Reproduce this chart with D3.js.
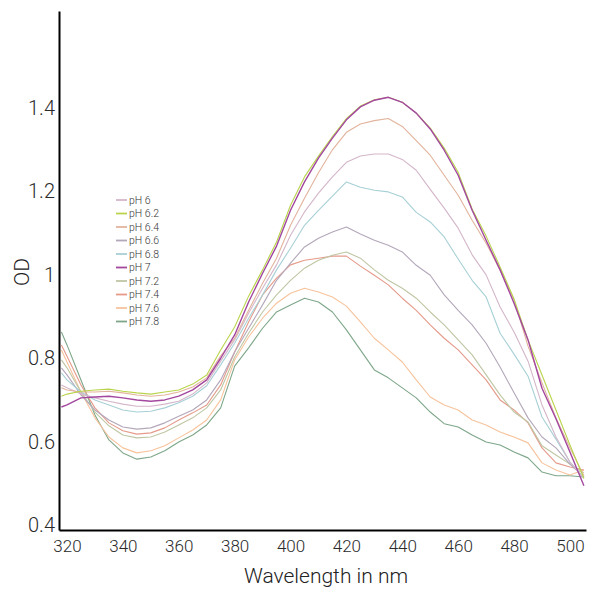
<!DOCTYPE html>
<html>
<head>
<meta charset="utf-8">
<script src="https://cdn.jsdelivr.net/npm/d3@7"></script>
<style>
  body { margin: 0; background: #fff; }
  svg { font-family: Roboto, "DejaVu Sans", sans-serif; font-weight: 300; }
  .tick text { fill: #2a2a2a; }
</style>
</head>
<body>
<svg id="chart" width="600" height="600"></svg>
<script>
// wavelengths (nm)
const wavelengths = [318, 320, 325, 330, 335, 340, 345, 350, 355, 360, 365, 370, 375, 380, 385, 390, 395, 400,
    405, 410, 415, 420, 425, 430, 435, 440, 445, 450, 455, 460, 465, 470, 475, 480, 485, 490, 495, 500, 505];

const seriesNames = ['pH 6', 'pH 6.2', 'pH 6.4', 'pH 6.6', 'pH 6.8', 'pH 7', 'pH 7.2', 'pH 7.4', 'pH 7.6', 'pH 7.8'];
const seriesColors = ['#d3b6c9', '#b9d44c', '#e2b39c', '#b3a7ba', '#a7d0d6', '#a3479f', '#bec7a4', '#e59a8a', '#f7c39c', '#7ea689'];

const od_ph60 = [0.736, 0.729, 0.714, 0.705, 0.697, 0.690, 0.685, 0.685, 0.690, 0.697, 0.714, 0.741, 0.793, 0.844, 0.908, 0.968, 1.024, 1.095,
    1.151, 1.196, 1.235, 1.270, 1.285, 1.290, 1.290, 1.277, 1.251, 1.205, 1.160, 1.112, 1.048, 1.000, 0.923, 0.863, 0.793, 0.688, 0.611, 0.551, 0.512];
const od_ph62 = [0.709, 0.714, 0.721, 0.724, 0.726, 0.721, 0.717, 0.714, 0.719, 0.724, 0.738, 0.760, 0.820, 0.875, 0.949, 1.012, 1.079, 1.167,
    1.235, 1.285, 1.332, 1.375, 1.405, 1.420, 1.426, 1.414, 1.388, 1.352, 1.304, 1.246, 1.158, 1.093, 1.019, 0.942, 0.844, 0.760, 0.676, 0.592, 0.512];
const od_ph64 = [0.729, 0.724, 0.719, 0.719, 0.721, 0.717, 0.712, 0.709, 0.712, 0.719, 0.731, 0.753, 0.806, 0.848, 0.915, 0.980, 1.040, 1.119,
    1.184, 1.245, 1.300, 1.342, 1.362, 1.370, 1.375, 1.356, 1.322, 1.287, 1.239, 1.191, 1.131, 1.076, 1.012, 0.940, 0.829, 0.741, 0.657, 0.585, 0.518];
const od_ph66 = [0.777, 0.760, 0.712, 0.676, 0.652, 0.635, 0.630, 0.633, 0.645, 0.661, 0.676, 0.700, 0.748, 0.815, 0.872, 0.928, 0.987, 1.028,
    1.067, 1.088, 1.103, 1.115, 1.098, 1.083, 1.071, 1.055, 1.023, 0.999, 0.952, 0.915, 0.880, 0.836, 0.779, 0.717, 0.657, 0.611, 0.585, 0.546, 0.515];
const od_ph68 = [0.765, 0.748, 0.719, 0.700, 0.688, 0.676, 0.671, 0.673, 0.681, 0.693, 0.709, 0.734, 0.784, 0.836, 0.896, 0.952, 1.012, 1.064,
    1.119, 1.155, 1.189, 1.223, 1.210, 1.203, 1.199, 1.187, 1.150, 1.127, 1.091, 1.038, 0.987, 0.947, 0.860, 0.810, 0.757, 0.659, 0.606, 0.551, 0.515];
const od_ph70 = [0.683, 0.688, 0.705, 0.707, 0.709, 0.705, 0.700, 0.697, 0.700, 0.709, 0.724, 0.748, 0.800, 0.856, 0.935, 1.004, 1.069, 1.155,
    1.223, 1.280, 1.328, 1.372, 1.403, 1.419, 1.426, 1.414, 1.388, 1.350, 1.299, 1.239, 1.155, 1.083, 1.012, 0.932, 0.844, 0.728, 0.655, 0.575, 0.494];
const od_ph72 = [0.796, 0.777, 0.719, 0.671, 0.638, 0.616, 0.609, 0.611, 0.623, 0.640, 0.657, 0.681, 0.724, 0.803, 0.860, 0.911, 0.952, 0.987,
    1.016, 1.035, 1.047, 1.055, 1.040, 1.012, 0.987, 0.968, 0.944, 0.911, 0.880, 0.844, 0.808, 0.760, 0.712, 0.671, 0.647, 0.590, 0.568, 0.546, 0.525];
const od_ph74 = [0.832, 0.805, 0.736, 0.681, 0.645, 0.626, 0.618, 0.621, 0.633, 0.652, 0.669, 0.688, 0.736, 0.815, 0.887, 0.952, 0.992, 1.024,
    1.035, 1.040, 1.045, 1.045, 1.021, 0.999, 0.976, 0.944, 0.915, 0.880, 0.848, 0.820, 0.784, 0.748, 0.700, 0.676, 0.645, 0.585, 0.549, 0.539, 0.532];
const od_ph76 = [0.820, 0.791, 0.719, 0.657, 0.611, 0.585, 0.573, 0.578, 0.590, 0.609, 0.628, 0.652, 0.700, 0.796, 0.851, 0.896, 0.932, 0.956,
    0.968, 0.959, 0.947, 0.925, 0.887, 0.848, 0.820, 0.791, 0.748, 0.707, 0.688, 0.676, 0.652, 0.640, 0.623, 0.611, 0.597, 0.549, 0.532, 0.520, 0.532];
const od_ph78 = [0.863, 0.832, 0.748, 0.664, 0.604, 0.573, 0.558, 0.563, 0.578, 0.599, 0.616, 0.640, 0.681, 0.781, 0.825, 0.872, 0.911, 0.928,
    0.944, 0.935, 0.911, 0.868, 0.820, 0.772, 0.753, 0.729, 0.705, 0.671, 0.643, 0.635, 0.616, 0.599, 0.592, 0.575, 0.561, 0.527, 0.518, 0.518, 0.515];

const seriesValues = [od_ph60, od_ph62, od_ph64, od_ph66, od_ph68, od_ph70, od_ph72, od_ph74, od_ph76, od_ph78];

const xTicks = [320, 340, 360, 380, 400, 420, 440, 460, 480, 500];
const yTicks = [0.4, 0.6, 0.8, 1, 1.2, 1.4];

const svg = d3.select('#chart');
const plot = { left: 59, right: 586, top: 11, bottom: 530 };

const xScale = d3.scaleLinear().domain([317.14, 505.75]).range([plot.left, plot.right]);
const yScale = d3.scaleLinear().domain([0.388, 1.633]).range([plot.bottom, plot.top]);

const line = d3.line()
    .x((d, i) => xScale(wavelengths[i]))
    .y(d => yScale(d));

// draw lower curves first so the top ones (6.2 / 7) end up in front
const drawOrder = [9, 8, 7, 6, 3, 4, 0, 2, 1, 5];
svg.append('g')
    .selectAll('path')
    .data(drawOrder)
    .join('path')
    .attr('fill', 'none')
    .attr('stroke', i => seriesColors[i])
    .attr('stroke-width', i => i === 5 ? 1.4 : 1.1)
    .attr('stroke-linejoin', 'round')
    .attr('d', i => line(seriesValues[i]));

// x axis
const xAxis = d3.axisBottom(xScale)
    .tickValues(xTicks)
    .tickSize(0)
    .tickSizeOuter(0)
    .tickPadding(10)
    .tickFormat(d3.format('d'));
const gx = svg.append('g')
    .attr('transform', 'translate(0,' + plot.bottom + ')')
    .call(xAxis);
gx.select('.domain').attr('stroke', '#000').attr('stroke-width', 2);
gx.selectAll('.tick text')
    .style('font-size', '17px')
    .style('font-family', 'Roboto, "DejaVu Sans", sans-serif');

// y axis
const yAxis = d3.axisLeft(yScale)
    .tickValues(yTicks)
    .tickSize(0)
    .tickSizeOuter(0)
    .tickPadding(4)
    .tickFormat(d => d === 1 ? '1' : d3.format('.1f')(d));
const gy = svg.append('g')
    .attr('transform', 'translate(' + plot.left + ',0)')
    .call(yAxis);
gy.select('.domain').attr('stroke', '#000').attr('stroke-width', 2);
gy.selectAll('.tick text')
    .style('font-size', '20px')
    .style('font-family', 'Roboto, "DejaVu Sans", sans-serif');

// axis labels
svg.append('text')
    .attr('x', 326)
    .attr('y', 583)
    .attr('text-anchor', 'middle')
    .attr('fill', '#222')
    .style('font-size', '21px')
    .text('Wavelength in nm');

svg.append('text')
    .attr('transform', 'translate(29,272) rotate(-90)')
    .attr('text-anchor', 'middle')
    .attr('fill', '#222')
    .style('font-size', '21px')
    .text('OD');

// legend
const legend = svg.append('g')
    .selectAll('g')
    .data(seriesNames)
    .join('g')
    .attr('transform', (d, i) => 'translate(116,' + (200 + i * 13.5) + ')');
legend.append('line')
    .attr('x1', 0).attr('x2', 11)
    .attr('stroke', (d, i) => seriesColors[i])
    .attr('stroke-width', 1.8);
legend.append('text')
    .attr('x', 13)
    .attr('dy', '0.35em')
    .attr('fill', '#333')
    .style('font-size', '10.5px')
    .text(d => d);
</script>
</body>
</html>
